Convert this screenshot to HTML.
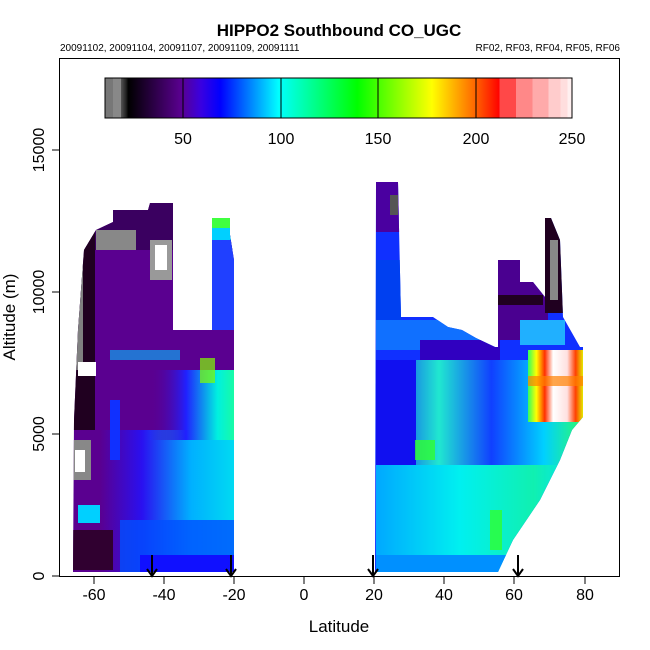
<!DOCTYPE html>
<html><head><style>
html,body{margin:0;padding:0;background:#fff;}
svg{display:block;font-family:"Liberation Sans",sans-serif;}
</style></head><body>
<svg width="650" height="650" viewBox="0 0 650 650" xmlns="http://www.w3.org/2000/svg">
<defs>
<linearGradient id="cb" x1="0" x2="1" y1="0" y2="0">
<stop offset="0" stop-color="#777"/><stop offset="0.017" stop-color="#777"/>
<stop offset="0.017" stop-color="#888"/><stop offset="0.034" stop-color="#888"/>
<stop offset="0.034" stop-color="#555"/><stop offset="0.045" stop-color="#222"/>
<stop offset="0.05" stop-color="#000"/>
<stop offset="0.163" stop-color="#5a0090"/>
<stop offset="0.205" stop-color="#3a00e0"/>
<stop offset="0.247" stop-color="#0000ff"/>
<stop offset="0.372" stop-color="#00ffff"/>
<stop offset="0.54" stop-color="#00ff00"/>
<stop offset="0.70" stop-color="#ffff00"/>
<stop offset="0.79" stop-color="#ff6a00"/>
<stop offset="0.845" stop-color="#ff0000"/>
<stop offset="0.845" stop-color="#ff4848"/><stop offset="0.88" stop-color="#ff4848"/>
<stop offset="0.88" stop-color="#ff8888"/><stop offset="0.915" stop-color="#ff8888"/>
<stop offset="0.915" stop-color="#ffaaaa"/><stop offset="0.95" stop-color="#ffaaaa"/>
<stop offset="0.95" stop-color="#ffcccc"/><stop offset="0.975" stop-color="#ffcccc"/>
<stop offset="0.975" stop-color="#ffdede"/><stop offset="0.99" stop-color="#ffdede"/>
<stop offset="0.99" stop-color="#fff0f0"/><stop offset="1" stop-color="#fff0f0"/>
</linearGradient>
<linearGradient id="lowL" x1="0" x2="1">
<stop offset="0" stop-color="#5a0090"/><stop offset="0.3" stop-color="#2a10f0"/>
<stop offset="0.65" stop-color="#00b0ff"/><stop offset="1" stop-color="#00e0f0"/>
</linearGradient>
<linearGradient id="midL" x1="0" x2="1">
<stop offset="0" stop-color="#5a0090" stop-opacity="0"/><stop offset="0.4" stop-color="#2020ff"/>
<stop offset="0.75" stop-color="#00f0e0"/><stop offset="1" stop-color="#20ff90"/>
</linearGradient>
<linearGradient id="lowR" x1="0" x2="1">
<stop offset="0" stop-color="#00a8ff"/><stop offset="0.4" stop-color="#00f0f0"/>
<stop offset="0.75" stop-color="#10f0b0"/><stop offset="1" stop-color="#00e0ff"/>
</linearGradient>
<linearGradient id="midR" x1="0" x2="1">
<stop offset="0" stop-color="#1010ff"/><stop offset="0.3" stop-color="#20e8d0"/>
<stop offset="0.55" stop-color="#1040ff"/><stop offset="0.8" stop-color="#00d0ff"/><stop offset="1" stop-color="#30ff60"/>
</linearGradient>
<linearGradient id="hot" x1="0" x2="1">
<stop offset="0" stop-color="#30ff60"/><stop offset="0.15" stop-color="#ffff00"/>
<stop offset="0.3" stop-color="#ff3000"/><stop offset="0.45" stop-color="#fff"/>
<stop offset="0.7" stop-color="#ffe0e0"/><stop offset="0.85" stop-color="#ff4000"/><stop offset="1" stop-color="#e0ff00"/>
</linearGradient>
<clipPath id="cl"><polygon points="73,572 74,420 78,330 84,250 96,230 113,222 113,210 148,210 150,203 173,203 173,330 212,330 212,218 230,218 230,235 234,260 234,572"/></clipPath>
<clipPath id="cr"><polygon points="375,572 376,182 398,182 401,317 433,317 448,327 462,330 476,338 495,347 498,347 498,260 520,260 520,282 533,282 545,297 545,218 551,218 560,240 563,317 580,347 583,347 583,417 572,430 560,460 540,500 513,540 498,572"/></clipPath>
</defs>

<text x="339" y="36" font-size="17" font-weight="bold" text-anchor="middle">HIPPO2 Southbound CO_UGC</text>
<text x="60" y="51" font-size="10">20091102, 20091104, 20091107, 20091109, 20091111</text>
<text x="620" y="51" font-size="10" text-anchor="end">RF02, RF03, RF04, RF05, RF06</text>

<g clip-path="url(#cl)">
<rect x="60" y="190" width="180" height="390" fill="#5a0090"/>
<rect x="60" y="190" width="180" height="60" fill="#3a0060"/>
<rect x="100" y="430" width="140" height="142" fill="url(#lowL)"/>
<rect x="120" y="520" width="120" height="52" fill="#0050ff" opacity="0.8"/>
<rect x="140" y="555" width="100" height="17" fill="#1010ff"/>
<rect x="150" y="370" width="90" height="70" fill="url(#midL)"/>
<rect x="110" y="350" width="70" height="10" fill="#00c0ff" opacity="0.6"/>
<rect x="200" y="358" width="15" height="25" fill="#80ff00" opacity="0.7"/>
<rect x="212" y="218" width="22" height="112" fill="#2040ff"/>
<rect x="212" y="218" width="20" height="10" fill="#40ff40"/>
<rect x="212" y="228" width="20" height="12" fill="#00d0ff"/>
<rect x="73" y="230" width="22" height="200" fill="#200020"/>
<rect x="73" y="250" width="10" height="120" fill="#808080"/>
<rect x="78" y="362" width="18" height="14" fill="#fff"/>
<rect x="96" y="230" width="40" height="20" fill="#888"/>
<rect x="150" y="240" width="22" height="40" fill="#999"/>
<rect x="155" y="245" width="12" height="25" fill="#fff"/>
<rect x="73" y="440" width="18" height="40" fill="#888"/>
<rect x="75" y="450" width="10" height="22" fill="#fff"/>
<rect x="73" y="530" width="40" height="40" fill="#300030"/>
<rect x="110" y="400" width="10" height="60" fill="#1030ff"/>
<rect x="78" y="505" width="22" height="18" fill="#00d0ff"/>
</g>

<g clip-path="url(#cr)">
<rect x="370" y="180" width="220" height="400" fill="#1030ff"/>
<rect x="376" y="182" width="25" height="50" fill="#4a00a0"/>
<rect x="390" y="195" width="8" height="20" fill="#555"/>
<rect x="376" y="260" width="25" height="60" fill="#0040f0"/>
<rect x="376" y="320" width="120" height="30" fill="#1070ff"/>
<rect x="498" y="260" width="50" height="80" fill="#4a0090"/>
<rect x="498" y="295" width="45" height="10" fill="#200020"/>
<rect x="520" y="320" width="45" height="25" fill="#20b0ff"/>
<rect x="545" y="218" width="18" height="95" fill="#200020"/>
<rect x="550" y="240" width="8" height="60" fill="#888"/>
<rect x="420" y="340" width="80" height="30" fill="#3000c0"/>
<rect x="376" y="360" width="210" height="110" fill="url(#midR)"/>
<rect x="376" y="360" width="40" height="110" fill="#1010f0"/>
<rect x="376" y="465" width="210" height="110" fill="url(#lowR)"/>
<rect x="376" y="555" width="130" height="20" fill="#0090ff"/>
<rect x="415" y="440" width="20" height="20" fill="#30ff30" opacity="0.8"/>
<rect x="490" y="510" width="12" height="40" fill="#30ff30" opacity="0.8"/>
<rect x="528" y="350" width="56" height="72" fill="url(#hot)"/>
<rect x="528" y="376" width="56" height="10" fill="#ff8000" opacity="0.7"/>
</g>

<rect x="105" y="78" width="467" height="40" fill="url(#cb)" stroke="#000" stroke-width="1"/>
<g stroke="#000" stroke-width="1">
<line x1="183" y1="78" x2="183" y2="118"/><line x1="281" y1="78" x2="281" y2="118"/>
<line x1="378" y1="78" x2="378" y2="118"/><line x1="476" y1="78" x2="476" y2="118"/>
</g>
<g font-size="16" text-anchor="middle">
<text x="183" y="144">50</text><text x="281" y="144">100</text><text x="378" y="144">150</text><text x="476" y="144">200</text><text x="572" y="144">250</text>
</g>

<rect x="59.5" y="58.5" width="560" height="518" fill="none" stroke="#000" stroke-width="1"/>
<g stroke="#000">
<line x1="94" y1="577" x2="94" y2="584"/><line x1="164" y1="577" x2="164" y2="584"/>
<line x1="234" y1="577" x2="234" y2="584"/><line x1="304" y1="577" x2="304" y2="584"/>
<line x1="374" y1="577" x2="374" y2="584"/><line x1="444" y1="577" x2="444" y2="584"/>
<line x1="514" y1="577" x2="514" y2="584"/><line x1="585" y1="577" x2="585" y2="584"/>
<line x1="52" y1="576" x2="59" y2="576"/><line x1="52" y1="434" x2="59" y2="434"/>
<line x1="52" y1="292" x2="59" y2="292"/><line x1="52" y1="150" x2="59" y2="150"/>
</g>
<g font-size="16" text-anchor="middle">
<text x="94" y="600">-60</text><text x="164" y="600">-40</text><text x="234" y="600">-20</text>
<text x="304" y="600">0</text><text x="374" y="600">20</text><text x="444" y="600">40</text>
<text x="514" y="600">60</text><text x="585" y="600">80</text>
<text transform="translate(44,576) rotate(-90)">0</text>
<text transform="translate(44,434) rotate(-90)">5000</text>
<text transform="translate(44,292) rotate(-90)">10000</text>
<text transform="translate(44,150) rotate(-90)">15000</text>
</g>
<text x="339" y="632" font-size="17" text-anchor="middle">Latitude</text>
<text transform="translate(15,317) rotate(-90)" font-size="17" text-anchor="middle">Altitude (m)</text>

<g stroke="#000" stroke-width="2" fill="none">
<line x1="152" y1="555" x2="152" y2="576"/><polyline points="147,569 152,576 157,569"/>
<line x1="231" y1="555" x2="231" y2="576"/><polyline points="226,569 231,576 236,569"/>
<line x1="373" y1="555" x2="373" y2="576"/><polyline points="368,569 373,576 378,569"/>
<line x1="518" y1="555" x2="518" y2="576"/><polyline points="513,569 518,576 523,569"/>
</g>
</svg>
</body></html>
